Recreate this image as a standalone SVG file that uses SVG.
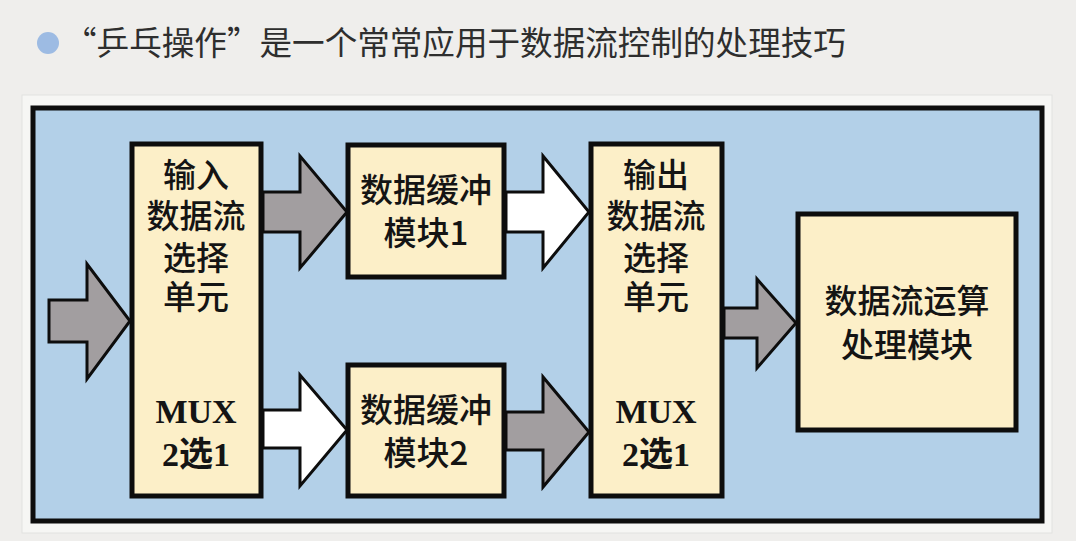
<svg xmlns="http://www.w3.org/2000/svg" width="1076" height="541" viewBox="0 0 1076 541">
  <style>
    .cjk { font-family: "Noto Sans CJK SC", "Noto Sans", sans-serif; font-size: 33px; fill: #141414; text-anchor: middle; font-weight: 500; }
    .lat { font-family: "Liberation Serif", "Noto Sans CJK SC", serif; font-size: 34px; font-weight: bold; fill: #141414; text-anchor: middle; }
    .box { fill: #fcefc8; stroke: #0d0d0d; stroke-width: 5; }
    .arr { stroke: #0d0d0d; stroke-width: 3; stroke-linejoin: miter; }
    .gray { fill: #a29ea0; }
    .white { fill: #ffffff; }
    .title { font-family: "Noto Sans CJK SC", "Noto Sans", sans-serif; font-size: 32.6px; fill: #2e2e2e; }
  </style>

  <!-- page background -->
  <rect x="0" y="0" width="1076" height="541" fill="#efeeec"/>
  <rect x="22" y="95" width="1030" height="438" fill="#f6f6f4" stroke="#e2e2e0" stroke-width="1"/>

  <!-- heading -->
  <circle cx="48" cy="43" r="11" fill="#9dbbe3"/>
  <text class="title" x="64" y="55">“乒乓操作”是一个常常应用于数据流控制的处理技巧</text>

  <!-- frame -->
  <rect id="frame" x="33" y="108" width="1009" height="413" fill="#b3d0e8" stroke="#0d0d0d" stroke-width="5"/>

  <!-- connectors -->
  <g id="connectors">
    <!-- input stream -->
    <polygon class="arr gray" points="49,300 87,300 87,264 130,321 87,379 87,342 49,342"/>
    <!-- input selector to buffer 1 -->
    <polygon class="arr gray" points="263,192 300,192 300,156 347,212 300,268 300,232 263,232"/>
    <!-- input selector to buffer 2 -->
    <polygon class="arr white" points="263,410 300,410 300,375 347,430 300,486 300,448 263,448"/>
    <!-- buffer 1 to output selector -->
    <polygon class="arr white" points="506,192 543,192 543,156 589,212 543,268 543,232 506,232"/>
    <!-- buffer 2 to output selector -->
    <polygon class="arr gray" points="506,412 543,412 543,377 589,432 543,487 543,450 506,450"/>
    <!-- output selector to processing -->
    <polygon class="arr gray" points="724,308 757,308 757,279 796,323 757,368 757,338 724,338"/>
  </g>

  <!-- input selector -->
  <g id="input-mux">
    <rect class="box" x="132" y="144" width="129" height="352"/>
    <text class="cjk" x="196" y="187">输入</text>
    <text class="cjk" x="196" y="228">数据流</text>
    <text class="cjk" x="196" y="270">选择</text>
    <text class="cjk" x="196" y="309">单元</text>
    <text class="lat" x="196" y="423">MUX</text>
    <text class="lat" x="196" y="466">2选1</text>
  </g>

  <!-- buffer 1 -->
  <g id="buffer-1">
    <rect class="box" x="348" y="145" width="156" height="132"/>
    <text class="cjk" x="426" y="202">数据缓冲</text>
    <text class="cjk" x="426" y="245">模块1</text>
  </g>

  <!-- buffer 2 -->
  <g id="buffer-2">
    <rect class="box" x="348" y="365" width="156" height="131"/>
    <text class="cjk" x="426" y="422">数据缓冲</text>
    <text class="cjk" x="426" y="465">模块2</text>
  </g>

  <!-- output selector -->
  <g id="output-mux">
    <rect class="box" x="591" y="144" width="131" height="352"/>
    <text class="cjk" x="656" y="187">输出</text>
    <text class="cjk" x="656" y="228">数据流</text>
    <text class="cjk" x="656" y="270">选择</text>
    <text class="cjk" x="656" y="309">单元</text>
    <text class="lat" x="656" y="423">MUX</text>
    <text class="lat" x="656" y="466">2选1</text>
  </g>

  <!-- processing module -->
  <g id="processing">
    <rect class="box" x="798" y="214" width="218" height="216"/>
    <text class="cjk" x="907" y="313">数据流运算</text>
    <text class="cjk" x="907" y="357">处理模块</text>
  </g>
</svg>
